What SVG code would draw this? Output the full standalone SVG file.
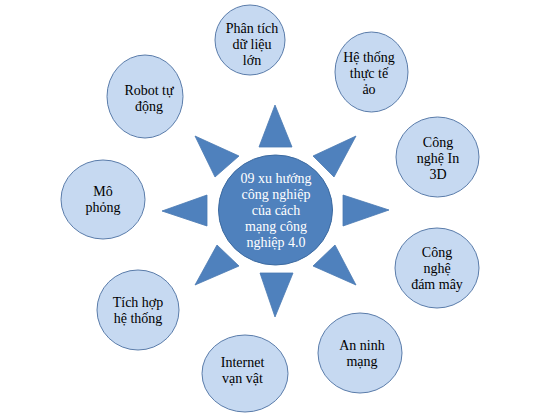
<svg xmlns="http://www.w3.org/2000/svg" width="543" height="420" viewBox="0 0 543 420">
<style>
.node ellipse{fill:#c6d9f1;stroke:#5a7caa;stroke-width:1}
.node text{font-family:"Liberation Serif","Times New Roman",serif;font-size:14px;fill:#000;text-anchor:middle}
.ray{fill:#4f81bd;stroke:#4a7ab3;stroke-width:0.8}
#center ellipse{fill:#4f81bd;stroke:#3c6aa0;stroke-width:1}
#center text{font-family:"Liberation Serif","Times New Roman",serif;font-size:14px;fill:#fff;text-anchor:middle}
</style>
<rect width="543" height="420" fill="#fff"/>
<g id="connectors">
<polygon class="ray" points="275,105 259,147 292,147"/>
<polygon class="ray" points="275,317 260,273 293,273"/>
<polygon class="ray" points="162,211 207,195 207,226"/>
<polygon class="ray" points="389,210 343,195 343,226"/>
<polygon class="ray" points="195,136 239,156 215,177"/>
<polygon class="ray" points="356,136 313,156 334,177"/>
<polygon class="ray" points="195,285 217,245 239,266"/>
<polygon class="ray" points="356,285 335,245 313,266"/>
</g>
<g id="center">
<ellipse cx="275.5" cy="210" rx="57" ry="55"/>
<text x="276" y="183">09 xu hướng</text>
<text x="276" y="199">công nghiệp</text>
<text x="276" y="215">của cách</text>
<text x="276" y="231">mạng công</text>
<text x="276" y="247">nghiệp 4.0</text>
</g>
<g id="n-phantich" class="node">
<ellipse cx="250" cy="40" rx="35" ry="35"/>
<text x="252" y="33">Phân tích</text>
<text x="252" y="49">dữ liệu</text>
<text x="252" y="65">lớn</text>
</g>
<g id="n-hethong" class="node">
<ellipse cx="371.5" cy="72" rx="36.5" ry="40"/>
<text x="369" y="62">Hệ thống</text>
<text x="369" y="78">thực tế</text>
<text x="369" y="94">ảo</text>
</g>
<g id="n-robot" class="node">
<ellipse cx="145" cy="96.5" rx="38" ry="41.5"/>
<text x="149" y="95">Robot tự</text>
<text x="149" y="111">động</text>
</g>
<g id="n-in3d" class="node">
<ellipse cx="437.5" cy="157" rx="41.5" ry="40"/>
<text x="438" y="147">Công</text>
<text x="438" y="163">nghệ In</text>
<text x="438" y="179">3D</text>
</g>
<g id="n-mophong" class="node">
<ellipse cx="103" cy="199.5" rx="42" ry="39.5"/>
<text x="103" y="196">Mô</text>
<text x="103" y="212">phỏng</text>
</g>
<g id="n-damay" class="node">
<ellipse cx="437" cy="268" rx="42" ry="40"/>
<text x="437" y="257">Công</text>
<text x="437" y="273">nghệ</text>
<text x="437" y="289">đám mây</text>
</g>
<g id="n-tichhop" class="node">
<ellipse cx="138" cy="310" rx="41" ry="40"/>
<text x="138" y="307">Tích hợp</text>
<text x="138" y="323">hệ thống</text>
</g>
<g id="n-anninh" class="node">
<ellipse cx="360" cy="353" rx="42" ry="40"/>
<text x="362" y="350">An ninh</text>
<text x="362" y="366">mạng</text>
</g>
<g id="n-internet" class="node">
<ellipse cx="245" cy="373.5" rx="43" ry="38.5"/>
<text x="242.5" y="367">Internet</text>
<text x="242.5" y="383">vạn vật</text>
</g>
</svg>
